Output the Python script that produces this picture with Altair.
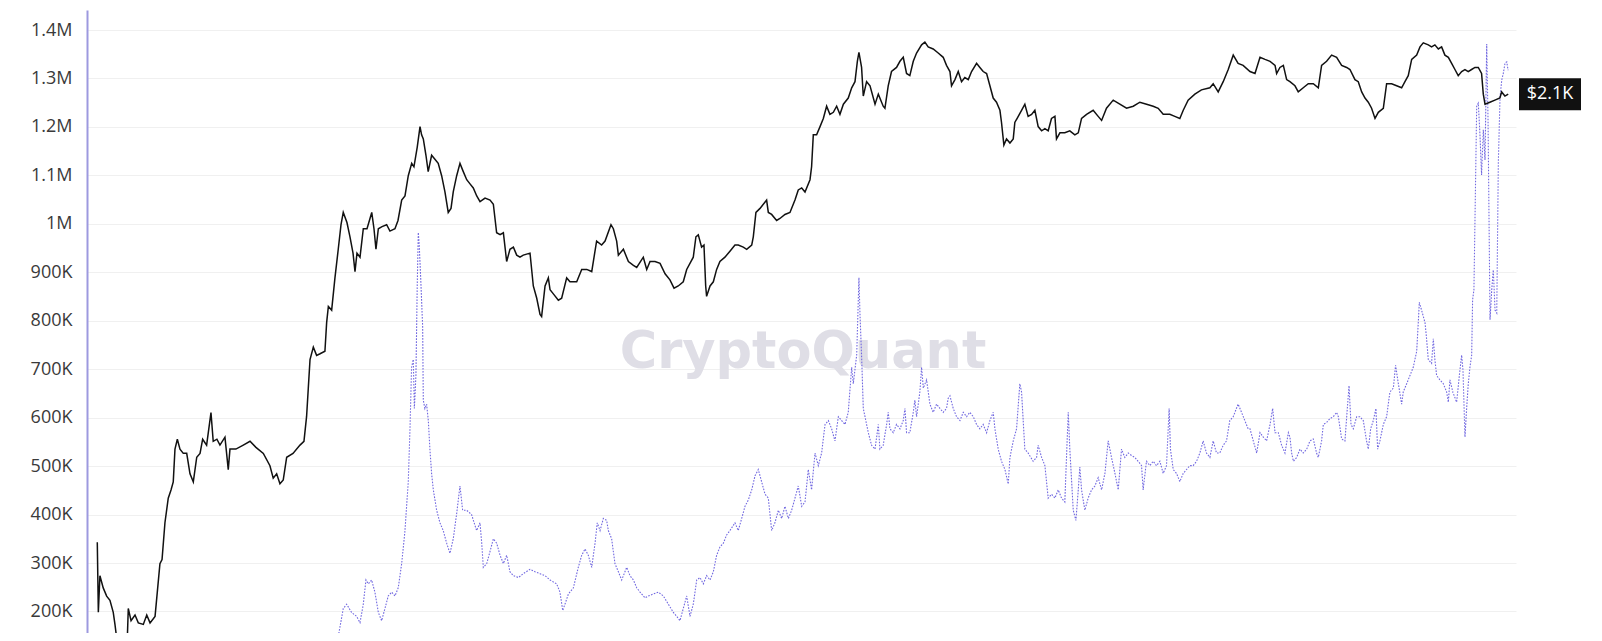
import altair as alt
import pandas as pd

# ---------------- data (time in decimal years) ----------------
# black series: price (USD, right log axis)
black_t = [
    2015.585, 2015.593, 2015.605, 2015.630, 2015.656, 2015.681, 2015.706, 2015.719, 2015.734, 2015.757,
    2015.787, 2015.810, 2015.820, 2015.841, 2015.871, 2015.896, 2015.934, 2015.960, 2015.985, 2016.023,
    2016.040, 2016.060, 2016.076, 2016.098, 2016.123, 2016.144, 2016.161, 2016.174, 2016.192, 2016.212,
    2016.237, 2016.263, 2016.288, 2016.313, 2016.339, 2016.364, 2016.384, 2016.414, 2016.447, 2016.464,
    2016.492, 2016.515, 2016.553, 2016.578, 2016.591, 2016.636, 2016.692, 2016.743, 2016.788, 2016.844,
    2016.894, 2016.919, 2016.945, 2016.970, 2016.995, 2017.021, 2017.069, 2017.122, 2017.152, 2017.172,
    2017.185, 2017.198, 2017.223, 2017.248, 2017.274, 2017.311, 2017.324, 2017.337, 2017.362, 2017.387,
    2017.412, 2017.433, 2017.450, 2017.478, 2017.501, 2017.524, 2017.539, 2017.554, 2017.577, 2017.602,
    2017.630, 2017.666, 2017.683, 2017.698, 2017.716, 2017.744, 2017.779, 2017.804, 2017.842, 2017.865,
    2017.893, 2017.918, 2017.943, 2017.969, 2017.986, 2018.011, 2018.032, 2018.044, 2018.057, 2018.077,
    2018.094, 2018.120, 2018.145, 2018.170, 2018.196, 2018.221, 2018.246, 2018.267, 2018.284, 2018.310,
    2018.335, 2018.360, 2018.386, 2018.411, 2018.436, 2018.462,
    2018.487, 2018.525, 2018.563, 2018.588, 2018.613, 2018.639, 2018.664, 2018.689, 2018.714, 2018.740,
    2018.765, 2018.790, 2018.815, 2018.866, 2018.891, 2018.917, 2018.942, 2018.954, 2018.980, 2019.005,
    2019.018, 2019.043, 2019.081, 2019.106, 2019.144, 2019.169, 2019.220, 2019.258, 2019.296, 2019.334,
    2019.371, 2019.409, 2019.435, 2019.480, 2019.498, 2019.523, 2019.536, 2019.574, 2019.612, 2019.650,
    2019.675, 2019.725, 2019.751, 2019.776, 2019.814, 2019.852, 2019.890, 2019.927, 2019.958, 2019.990,
    2020.028, 2020.054, 2020.104, 2020.124, 2020.142, 2020.167, 2020.185, 2020.198, 2020.205, 2020.231,
    2020.256, 2020.281, 2020.306, 2020.344, 2020.382, 2020.420, 2020.445, 2020.483, 2020.509, 2020.547,
    2020.559, 2020.579, 2020.610, 2020.635, 2020.660, 2020.673, 2020.698, 2020.736, 2020.761, 2020.799,
    2020.837, 2020.875, 2020.900, 2020.926, 2020.951, 2020.989, 2021.001, 2021.014, 2021.039, 2021.065,
    2021.090, 2021.115, 2021.140, 2021.166, 2021.191, 2021.216, 2021.242, 2021.279, 2021.305, 2021.330,
    2021.348, 2021.360, 2021.380, 2021.393, 2021.418, 2021.444, 2021.482, 2021.507,
    2021.544, 2021.557, 2021.582, 2021.607, 2021.645, 2021.671, 2021.696, 2021.721, 2021.746, 2021.772,
    2021.797, 2021.835, 2021.860, 2021.885, 2021.923, 2021.961, 2021.999, 2022.024, 2022.050, 2022.062,
    2022.088, 2022.113, 2022.138, 2022.163, 2022.189, 2022.214, 2022.252, 2022.277, 2022.302, 2022.328,
    2022.353, 2022.378, 2022.403, 2022.429, 2022.441, 2022.459, 2022.479, 2022.505, 2022.530, 2022.542,
    2022.568, 2022.593, 2022.618, 2022.643, 2022.669, 2022.694, 2022.719, 2022.745, 2022.770, 2022.795,
    2022.820, 2022.846, 2022.858, 2022.884, 2022.921, 2022.959, 2022.997, 2023.023, 2023.048, 2023.086,
    2023.136, 2023.174, 2023.200, 2023.237, 2023.288, 2023.338, 2023.389, 2023.440, 2023.490, 2023.541,
    2023.591, 2023.629, 2023.667, 2023.717, 2023.755, 2023.793, 2023.819, 2023.856, 2023.907, 2023.957,
    2024.021, 2024.046, 2024.084, 2024.122, 2024.160, 2024.198, 2024.235, 2024.273,
    2024.325, 2024.363, 2024.401, 2024.439, 2024.477, 2024.515, 2024.527, 2024.552, 2024.578, 2024.603,
    2024.628, 2024.666, 2024.691, 2024.729, 2024.767, 2024.805, 2024.843, 2024.868, 2024.906, 2024.944,
    2024.982, 2025.020, 2025.058, 2025.083, 2025.121, 2025.146, 2025.172, 2025.197, 2025.222, 2025.247,
    2025.273, 2025.298, 2025.336, 2025.361, 2025.399, 2025.437, 2025.475, 2025.500, 2025.525, 2025.551,
    2025.589, 2025.614, 2025.639, 2025.677, 2025.702, 2025.727, 2025.753, 2025.778, 2025.803, 2025.829,
    2025.854, 2025.879, 2025.904, 2025.930, 2025.955, 2025.980, 2026.005, 2026.031, 2026.056, 2026.081,
    2026.094, 2026.107, 2026.144, 2026.182, 2026.220, 2026.233, 2026.258, 2026.283,
]
black_p = [
    2.92, 1.04, 1.78, 1.49, 1.32, 1.24, 1.04, 0.87, 0.69, 0.5,
    0.45, 0.6, 1.10, 0.92, 1.0, 0.89, 0.87, 1.0, 0.89, 0.98,
    1.40, 2.13, 2.26, 3.89, 5.58, 6.3, 7.1, 11.5, 13.3, 11.5,
    10.8, 10.8, 8.0, 7.1, 10.2, 10.8, 13.3, 12.2, 19.7, 12.9,
    13.3, 12.2, 13.7, 8.5, 11.5, 11.5, 12.2, 12.9, 11.8, 10.8,
    9.0, 7.5, 8.0, 6.9, 7.3, 10.2, 10.8, 12.2, 12.9, 18.6,
    28.3, 43, 51.6, 45.7, 46.8, 48.6, 74, 94, 89, 143,
    218, 313, 375, 323, 262, 206, 157, 206, 194, 295,
    295, 375, 295, 218, 295, 304, 313, 285, 295, 333,
    450, 478, 644, 772, 734, 982, 1327, 1175, 1107, 870,
    684, 870, 820, 772, 644, 507, 375, 398, 507, 644,
    772, 684, 607, 571, 538, 478,
    440, 463, 450, 423, 278, 270, 278, 182, 218, 225,
    200, 194, 200, 206, 127, 106, 83.5, 81, 127, 143,
    120, 113, 103, 106, 143, 135, 135, 162, 162, 157,
    246, 232, 246, 313, 295, 246, 200, 218, 182, 172,
    167, 194, 162, 182, 182, 177, 152, 139, 123, 127,
    135, 162, 194, 262, 270, 225, 232, 127, 109, 127,
    135, 162, 182, 194, 212, 232, 232, 225, 218, 232,
    262, 375, 398, 423, 450, 375, 364, 333, 343, 364,
    375, 450, 522, 538, 507, 607, 734, 1175, 1175, 1327,
    1496, 1791, 1589, 1637, 1791, 1589, 1845, 2020, 2350, 2570,
    3470, 3960, 3170, 2080, 2570, 2420, 1845, 2140,
    1791, 1738, 2420, 2985, 3170, 3470, 3680, 2900, 2810, 3470,
    3920, 4420, 4600, 4290, 4160, 3920, 3680, 3270, 2985, 2420,
    2650, 2985, 2570, 2730, 2650, 2985, 3365, 3170, 2985, 2900,
    2420, 2020, 1900, 1687, 1410, 1012, 1107, 1042, 1107, 1410,
    1542, 1687, 1845, 1542, 1589, 1687, 1327, 1247, 1287, 1247,
    1496, 1542, 1107, 1211, 1211, 1247, 1175, 1211, 1496, 1589,
    1687, 1542, 1453, 1738, 1959, 1845, 1738, 1791, 1900, 1845,
    1791, 1738, 1589, 1589, 1542, 1496, 1687, 1959, 2140, 2280,
    2350, 2495, 2210, 2570, 3075, 3800, 3365, 3270,
    2985, 2900, 3680, 3570, 3470, 3270, 2900, 3170, 3270, 2650,
    2570, 2420, 2210, 2350, 2495, 2495, 2350, 3270, 3470, 3800,
    3680, 3270, 3170, 3075, 2650, 2570, 2210, 2020, 1900, 1738,
    1496, 1637, 1738, 2495, 2495, 2420, 2350, 2570, 2810, 3570,
    3800, 4290, 4550, 4420, 4290, 4420, 4160, 4290, 3800, 3680,
    3365, 3075, 2810, 2985, 3075, 2985, 3075, 3170, 3170, 2900,
    2140, 1845, 1900, 1959, 2020, 2210, 2080, 2140,
]

# purple dotted series: count (left linear axis), in thousands
purple_t = [
    2017.400, 2017.450, 2017.476, 2017.513, 2017.551, 2017.577, 2017.602, 2017.622, 2017.640, 2017.665,
    2017.690, 2017.716, 2017.741, 2017.766, 2017.791, 2017.817, 2017.842, 2017.867, 2017.893, 2017.918,
    2017.943, 2017.956, 2017.968, 2017.981, 2017.989, 2018.001, 2018.011, 2018.019, 2018.026, 2018.037,
    2018.052, 2018.057, 2018.069, 2018.082, 2018.095, 2018.107, 2018.120, 2018.133, 2018.158, 2018.183,
    2018.208, 2018.234, 2018.259, 2018.284, 2018.309, 2018.335, 2018.355, 2018.385, 2018.423, 2018.461,
    2018.487, 2018.500, 2018.512, 2018.538, 2018.563, 2018.588, 2018.613, 2018.639, 2018.664, 2018.689,
    2018.714, 2018.740, 2018.778, 2018.815, 2018.866, 2018.904, 2018.942, 2018.980, 2019.018, 2019.068,
    2019.093, 2019.114, 2019.131, 2019.157, 2019.195, 2019.232, 2019.258, 2019.283, 2019.308, 2019.334,
    2019.359, 2019.376, 2019.397, 2019.422, 2019.447, 2019.460, 2019.485, 2019.510, 2019.536, 2019.561,
    2019.599, 2019.624, 2019.650, 2019.675, 2019.700, 2019.738, 2019.763, 2019.801, 2019.839, 2019.877,
    2019.915, 2019.953, 2019.978, 2020.003, 2020.028, 2020.054, 2020.079, 2020.104, 2020.130, 2020.155,
    2020.180, 2020.205, 2020.231, 2020.256, 2020.281, 2020.306, 2020.332, 2020.357, 2020.382, 2020.420,
    2020.445, 2020.471, 2020.496, 2020.521, 2020.547, 2020.572, 2020.597, 2020.622, 2020.648, 2020.673,
    2020.698, 2020.723, 2020.749, 2020.774, 2020.799, 2020.825, 2020.850, 2020.875, 2020.900, 2020.926,
    2020.951, 2020.976, 2021.001, 2021.027, 2021.052, 2021.077, 2021.103, 2021.128, 2021.153, 2021.178,
    2021.204, 2021.229, 2021.254, 2021.279, 2021.305, 2021.317, 2021.343, 2021.360, 2021.368, 2021.381,
    2021.393, 2021.406, 2021.431, 2021.456, 2021.482, 2021.507,
    2021.519, 2021.544, 2021.570, 2021.582, 2021.595, 2021.620, 2021.645, 2021.671, 2021.696, 2021.709,
    2021.721, 2021.746, 2021.772, 2021.784, 2021.797, 2021.822, 2021.835, 2021.848, 2021.873, 2021.898,
    2021.923, 2021.949, 2021.974, 2021.999, 2022.024, 2022.037, 2022.050, 2022.075, 2022.100, 2022.126,
    2022.151, 2022.176, 2022.201, 2022.227, 2022.252, 2022.277, 2022.302, 2022.328, 2022.353, 2022.378,
    2022.391, 2022.416, 2022.441, 2022.467, 2022.492, 2022.505, 2022.530, 2022.555, 2022.580, 2022.593,
    2022.618, 2022.643, 2022.681, 2022.707, 2022.719, 2022.745, 2022.770, 2022.795, 2022.820, 2022.846,
    2022.871, 2022.896, 2022.921, 2022.947, 2022.959, 2022.985, 2023.005, 2023.023, 2023.035, 2023.048,
    2023.073, 2023.098, 2023.124, 2023.149, 2023.174, 2023.200, 2023.225, 2023.250, 2023.275, 2023.301,
    2023.326, 2023.351, 2023.376, 2023.402, 2023.427, 2023.452, 2023.477, 2023.503, 2023.515, 2023.540,
    2023.566, 2023.591, 2023.616, 2023.642, 2023.667, 2023.692, 2023.712, 2023.722, 2023.743, 2023.768,
    2023.793, 2023.819, 2023.844, 2023.869, 2023.894, 2023.920, 2023.945, 2023.970, 2023.995, 2024.021,
    2024.046, 2024.071, 2024.096, 2024.122, 2024.147, 2024.172, 2024.198, 2024.235, 2024.261, 2024.286,
    2024.311,
    2024.325, 2024.350, 2024.376, 2024.401, 2024.426, 2024.451, 2024.477, 2024.497, 2024.515, 2024.540,
    2024.565, 2024.590, 2024.616, 2024.628, 2024.641, 2024.654, 2024.679, 2024.704, 2024.729, 2024.755,
    2024.780, 2024.805, 2024.830, 2024.843, 2024.868, 2024.881, 2024.906, 2024.931, 2024.957, 2024.982,
    2024.995, 2025.020, 2025.045, 2025.063, 2025.076, 2025.091, 2025.108, 2025.134, 2025.159, 2025.184,
    2025.209, 2025.222, 2025.240, 2025.260, 2025.280, 2025.293, 2025.310, 2025.336, 2025.361, 2025.386,
    2025.412, 2025.429, 2025.450, 2025.475, 2025.487, 2025.513, 2025.538, 2025.563, 2025.589, 2025.601,
    2025.609, 2025.626, 2025.652, 2025.664, 2025.677, 2025.702, 2025.715, 2025.727, 2025.740, 2025.765,
    2025.791, 2025.816, 2025.829,
    2025.841, 2025.864, 2025.892, 2025.912, 2025.930, 2025.940, 2025.955, 2025.968, 2025.980, 2025.993,
    2026.006, 2026.013, 2026.023, 2026.044, 2026.056, 2026.069, 2026.081, 2026.094, 2026.107, 2026.120,
    2026.130, 2026.145, 2026.158, 2026.170, 2026.183, 2026.196, 2026.208, 2026.221, 2026.234, 2026.246,
    2026.259, 2026.272, 2026.282,
]
purple_k = [
    130, 206, 215, 198, 190, 177, 215, 265, 257, 265,
    240, 198, 181, 206, 232, 240, 232, 249, 299, 367,
    468, 577, 704, 720, 619, 687, 872, 982, 956, 889,
    788, 636, 619, 628, 594, 535, 484, 451, 409, 383,
    367, 341, 320, 350, 400, 459, 409, 409, 400, 367,
    383, 341, 291, 299, 324, 350, 341, 316, 299, 316,
    282, 274, 270, 278, 287, 282, 278, 274, 265, 257,
    240, 202, 215, 236, 249, 291, 316, 329, 316, 291,
    341, 383, 367, 392, 388, 367, 350, 299, 282, 265,
    291, 274, 265, 249, 240, 228, 232, 236, 240, 232,
    215, 198, 190, 181, 206, 232, 190, 215, 265, 270,
    257, 274, 265, 282, 316, 333, 341, 358, 367, 383,
    367, 392, 417, 430, 451, 480, 493, 468, 442, 434,
    367, 383, 409, 392, 417, 392, 409, 434, 459, 417,
    426, 493, 451, 527, 501, 527, 586, 594, 577, 552,
    602, 594, 586, 611, 704, 670, 729, 889, 813, 720,
    619, 602, 569, 543, 535, 586,
    535, 543, 586, 611, 577, 569, 586, 577, 594, 619,
    569, 569, 611, 636, 602, 653, 704, 661, 678, 628,
    611, 628, 619, 611, 619, 640, 645, 619, 602, 594,
    611, 602, 611, 602, 586, 577, 586, 569, 594, 611,
    577, 535, 510, 493, 463, 518, 552, 577, 670, 653,
    535, 527, 510, 518, 543, 518, 501, 434, 442, 434,
    451, 434, 426, 611, 535, 409, 388, 451, 498, 451,
    409, 434, 451, 459, 476, 451, 485, 552, 518, 485,
    451, 535, 518, 527, 522, 518, 510, 501, 451, 510,
    501, 510, 501, 510, 485, 501, 619, 535, 493, 485,
    468, 485, 493, 501, 501, 510, 527, 552, 527, 518,
    552, 527, 527, 543, 552, 594, 602, 628, 611, 594,
    577,
    577, 552, 527, 569, 560, 552, 586, 619, 569, 569,
    543, 527, 569, 560, 527, 510, 518, 535, 527, 535,
    552, 556, 527, 518, 552, 586, 590, 598, 602, 611,
    602, 556, 552, 619, 666, 586, 577, 602, 602, 594,
    552, 535, 577, 594, 619, 535, 552, 586, 602, 653,
    661, 708, 670, 628, 653, 670, 687, 704, 737, 796,
    838, 822, 796, 763, 720, 712, 763, 720, 687, 678,
    670, 653, 632,
    678, 652, 632, 686, 729, 698, 560, 620, 669, 705,
    729, 843, 864, 1243, 1249, 1183, 1101, 1194, 1132, 1371,
    1214, 802, 864, 905, 822, 816, 1126, 1262, 1297, 1311,
    1332, 1334, 1317,
]

left_ticks = [200000, 300000, 400000, 500000, 600000, 700000, 800000,
              900000, 1000000, 1100000, 1200000, 1300000, 1400000]
right_ticks = [1, 2, 4, 10, 20, 40, 100, 200, 400, 1000, 4000]
last_label = "$2.1K"
watermark_text = "CryptoQuant"

df_black = pd.DataFrame({"year": black_t, "price": black_p})
df_purple = pd.DataFrame({"year": purple_t, "count": [v * 1000 for v in purple_k]})
df_last = pd.DataFrame({"price": [black_p[-1]], "label": [last_label]})
df_wm = pd.DataFrame({"t": [watermark_text]})

W, H = 1429, 623
FONT = "Open Sans"

x_enc = alt.X("year:Q", scale=alt.Scale(domain=[2015.507, 2026.342], nice=False, zero=False), axis=None)
count_scale = alt.Scale(domain=[155600, 1441300], nice=False, zero=False)
price_scale = alt.Scale(type="log", domain=[0.767, 7385], nice=False)

watermark = alt.Chart(df_wm).mark_text(
    font="DejaVu Sans", fontSize=51, fontWeight="bold", color="#dfdee6",
    align="center", baseline="alphabetic"
).encode(x=alt.value(716), y=alt.value(358), text="t:N")

purple = alt.Chart(df_purple).mark_line(
    color="#7168e0", strokeWidth=1.1, strokeDash=[1.6, 1.4], clip=True
).encode(
    x=x_enc,
    y=alt.Y("count:Q", scale=count_scale,
            axis=alt.Axis(orient="left", values=left_ticks, title=None,
                          labelExpr="datum.value >= 1000000 ? format(datum.value/1000000, '~g') + 'M' : format(datum.value/1000, '~g') + 'K'",
                          grid=True, gridColor="#f0f0f0", gridWidth=1, ticks=False,
                          domainColor="#9d99df", domainWidth=2,
                          labelFont=FONT, labelFontSize=18, labelColor="#3a3a3a", labelPadding=15)),
)

black = alt.Chart(df_black).mark_line(color="#111111", strokeWidth=1.5, clip=True).encode(
    x=x_enc,
    y=alt.Y("price:Q", scale=price_scale,
            axis=alt.Axis(orient="right", values=right_ticks, title=None,
                          labelExpr="datum.value >= 1000 ? '$' + (datum.value/1000) + 'K' : '$' + datum.value",
                          grid=False, ticks=False, domainColor="#000000", domainWidth=1.5,
                          labelFont=FONT, labelFontSize=17, labelColor="#3a3a3a", labelPadding=17)),
)

box = alt.Chart(df_last).mark_tick(
    orient="horizontal", color="#111111", size=62, thickness=32, opacity=1
).encode(x=alt.value(W + 34), y=alt.Y("price:Q", scale=price_scale, axis=None))

box_text = alt.Chart(df_last).mark_text(
    font=FONT, fontSize=18, color="#ffffff", align="center", baseline="middle"
).encode(x=alt.value(W + 34), y=alt.Y("price:Q", scale=price_scale, axis=None), text="label:N")

left_group = alt.layer(watermark, purple)
right_group = alt.layer(black, box, box_text)

chart = alt.layer(left_group, right_group).resolve_scale(y="independent").properties(
    width=W, height=H,
    padding={"left": 79, "top": 2, "right": 70, "bottom": 0},
    autosize=alt.AutoSizeParams(type="none"),
    background="#ffffff",
).configure_view(strokeWidth=0)

chart.save("out.html", embed_options={"renderer": "svg", "actions": False})
